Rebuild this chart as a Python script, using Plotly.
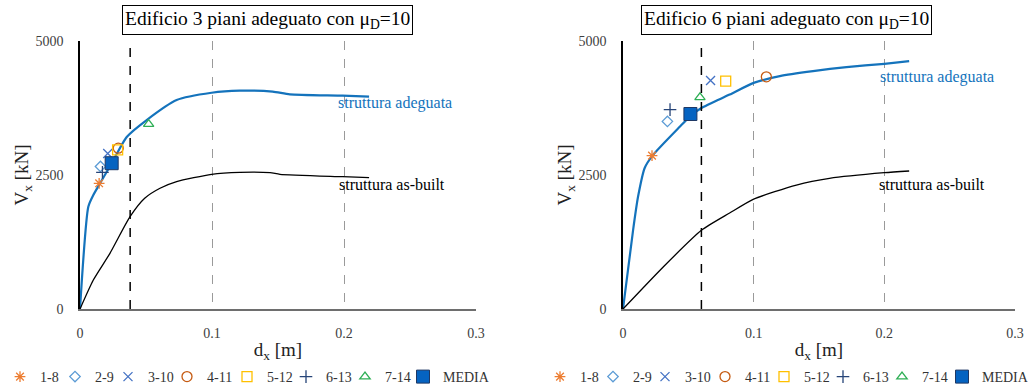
import plotly.graph_objects as go

# ---------------- data ----------------
# Edificio 3 piani
x_ad3 = [0, 0.0063, 0.0101, 0.0152, 0.024, 0.0354, 0.0505, 0.0732, 0.0997, 0.121, 0.146, 0.159, 0.199, 0.219]
y_ad3 = [0, 1909, 2127, 2345, 2720, 3210, 3526, 3899, 4035, 4073, 4055, 4005, 3980, 3961]
x_ab3 = [0, 0.0101, 0.0227, 0.0379, 0.049, 0.0606, 0.0732, 0.0997, 0.121, 0.144, 0.1515, 0.199, 0.219]
y_ab3 = [0, 541, 1039, 1722, 2065, 2252, 2375, 2513, 2550, 2543, 2513, 2468, 2450]

# Edificio 6 piani
x_ad6 = [0, 0.0077, 0.0115, 0.0166, 0.023, 0.0434, 0.0516, 0.06, 0.0816, 0.1, 0.12, 0.1454, 0.171, 0.2, 0.219]
y_ad6 = [0, 1468, 2093, 2631, 2875, 3400, 3600, 3750, 4000, 4219, 4344, 4437, 4512, 4575, 4625]
x_ab6 = [0, 0.0306, 0.06, 0.0816, 0.1, 0.1327, 0.158, 0.2, 0.219]
y_ab6 = [0, 780, 1468, 1790, 2050, 2312, 2437, 2543, 2575]

# Records (coppie di accelerogrammi)
rec_names = ["1-8", "2-9", "3-10", "4-11", "5-12", "6-13", "7-14", "MEDIA"]
rec_x3 = [0.0145, 0.0155, 0.021, 0.029, 0.0285, 0.017, 0.052, 0.024]
rec_y3 = [2345, 2660, 2900, 3000, 2970, 2550, 3450, 2720]
rec_x6 = [0.0222, 0.034, 0.067, 0.1097, 0.0786, 0.036, 0.0589, 0.0516]
rec_y6 = [2862, 3500, 4262, 4331, 4250, 3719, 3950, 3638]

# threshold displacement (dashed black lines)
d_lim = [0.038, 0.06]

x_ticks = [0, 0.1, 0.2, 0.3]
y_ticks = [0, 2500, 5000]

titles = ["Edificio 3 piani adeguato con μ<sub>D</sub>=10",
          "Edificio 6 piani adeguato con μ<sub>D</sub>=10"]

# ---------------- styles ----------------
FONT = "Liberation Serif"
BLUE = "#1473BC"
rec_symbols = ["asterisk-open", "diamond-open", "x-thin-open", "circle-open",
               "square-open", "cross-thin-open", "triangle-up-open", "square"]
rec_colors = ["#ED7D31", "#5B9BD5", "#4472C4", "#C55A11",
              "#FFC000", "#264478", "#2EAF55", "#0563C1"]
rec_sizes = [9, 8, 9, 10, 10, 9, 9, 13]

# legend symbol centres (px) for each panel's legend row
leg_px = [[20, 75, 128, 187, 247, 306, 365, 423],
          [560, 613, 665, 725, 784, 843, 902, 962]]

W, H = 1028, 392

fig = go.Figure()

panels = [
    (x_ad3, y_ad3, x_ab3, y_ab3, rec_x3, rec_y3, "x", "y"),
    (x_ad6, y_ad6, x_ab6, y_ab6, rec_x6, rec_y6, "x2", "y2"),
]

leg_common = dict(orientation="h", xanchor="left", y=(H - 377) / H, yanchor="middle",
                  font=dict(family=FONT, size=14, color="#333"),
                  bgcolor="rgba(0,0,0,0)", tracegroupgap=0, itemwidth=30)
legend_layout = {}
k = 0
for p, (xa, ya, xb, yb, rx, ry, xr, yr) in enumerate(panels):
    fig.add_trace(go.Scatter(x=xa, y=ya, mode="lines", line=dict(color=BLUE, width=2.2, shape="spline", smoothing=0.6),
                             xaxis=xr, yaxis=yr, showlegend=False, hoverinfo="skip"))
    fig.add_trace(go.Scatter(x=xb, y=yb, mode="lines", line=dict(color="black", width=1.3, shape="spline", smoothing=0.6),
                             xaxis=xr, yaxis=yr, showlegend=False, hoverinfo="skip"))
    for i, name in enumerate(rec_names):
        if name == "MEDIA":
            mk = dict(symbol=rec_symbols[i], size=rec_sizes[i], color=rec_colors[i],
                      line=dict(color="#1F3864", width=1))
        else:
            mk = dict(symbol=rec_symbols[i], size=rec_sizes[i], color=rec_colors[i],
                      line=dict(color=rec_colors[i], width=1.3))
        k += 1
        lname = "legend" if k == 1 else f"legend{k}"
        legend_layout[lname] = dict(x=(leg_px[p][i] - 20) / W, **leg_common)
        fig.add_trace(go.Scatter(x=[rx[i]], y=[ry[i]], mode="markers", name=name, marker=mk,
                                 xaxis=xr, yaxis=yr, legend=lname))

# dashed threshold lines
for dl, xr, yr in zip(d_lim, ["x", "x2"], ["y", "y2"]):
    fig.add_shape(type="line", xref=xr, yref=yr, x0=dl, x1=dl, y0=0, y1=5000,
                  line=dict(color="black", width=1.5, dash="dash"))

axis_common = dict(range=[0, 0.3], tickvals=x_ticks, ticktext=["0", "0.1", "0.2", "0.3"],
                   showgrid=True, gridcolor="#9A9A9A", griddash="dash", gridwidth=1,
                   showline=True, linecolor="#6E6E6E", linewidth=2, zeroline=False,
                   ticks="", tickfont=dict(family=FONT, size=14, color="#404040"), ticklabelstandoff=10,
                   title=dict(text="d<sub>x</sub> [m]", font=dict(family=FONT, size=19, color="#222"), standoff=3),
                   fixedrange=True)
yaxis_common = dict(range=[0, 5000], tickvals=y_ticks, showgrid=False, zeroline=False,
                    showline=True, linecolor="black", linewidth=1.5, ticks="",
                    tickfont=dict(family=FONT, size=14, color="#404040"), ticklabelstandoff=12,
                    title=dict(text="V<sub>x</sub> [kN]", font=dict(family=FONT, size=19, color="#222"), standoff=2),
                    fixedrange=True)

fig.update_layout(
    width=W, height=H, margin=dict(l=0, r=0, t=0, b=0, autoexpand=False),
    paper_bgcolor="white", plot_bgcolor="white",
    font=dict(family=FONT, color="#222"),
    xaxis=dict(domain=[80 / W, 476 / W], anchor="y", **axis_common),
    yaxis=dict(domain=[(H - 309) / H, (H - 41) / H], anchor="x", **yaxis_common),
    xaxis2=dict(domain=[623 / W, 1015 / W], anchor="y2", **axis_common),
    yaxis2=dict(domain=[(H - 309) / H, (H - 41) / H], anchor="x2", **yaxis_common),
    showlegend=True,
    **legend_layout,
)

# titles
for t, cx in zip(titles, [267, 786]):
    fig.add_annotation(text=t, xref="paper", yref="paper", x=cx / W, y=(H - 20) / H,
                       xanchor="center", yanchor="middle",
                       showarrow=False, font=dict(family=FONT, size=19.5, color="black"),
                       bordercolor="black", borderwidth=1, borderpad=2, bgcolor="white")

# curve labels
labels = [
    ("struttura adeguata", "x", "y", 0.2386, 3838, BLUE),
    ("struttura as-built", "x", "y", 0.236, 2330, "black"),
    ("struttura adeguata", "x2", "y2", 0.2400, 4333, BLUE),
    ("struttura as-built", "x2", "y2", 0.2366, 2330, "black"),
]
for txt, xr, yr, xv, yv, col in labels:
    fig.add_annotation(text=txt, xref=xr, yref=yr, x=xv, y=yv, showarrow=False,
                       xanchor="center", yanchor="middle",
                       font=dict(family=FONT, size=16, color=col))

fig.write_html("out.html")
